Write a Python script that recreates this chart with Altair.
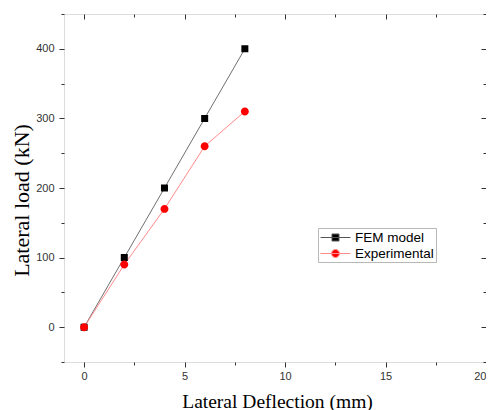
import altair as alt
import pandas as pd

deflection = [0, 2, 4, 6, 8]
fem_load = [0, 100, 200, 300, 400]
exp_load = [0, 90, 170, 260, 310]
series_names = ["FEM model", "Experimental"]
x_ticks = [0, 2.5, 5, 7.5, 10, 12.5, 15, 17.5, 20]
y_ticks = [-50, 0, 50, 100, 150, 200, 250, 300, 350, 400, 450]

rows = []
for name, loads in zip(series_names, [fem_load, exp_load]):
    for d, l in zip(deflection, loads):
        rows.append({"series": name, "deflection": d, "load": l})
df = pd.DataFrame(rows)

xs = alt.Scale(domain=[-1, 20], nice=False, zero=False)
ys = alt.Scale(domain=[-50, 450], nice=False, zero=False)

LF = "Liberation Sans"
TF = "Liberation Serif"
LC = "#333333"

x_major = "datum.value % 5 === 0"
y_major = "datum.value % 100 === 0"

x_bottom = alt.Axis(
    orient="bottom", values=x_ticks, format="d",
    labelExpr=f"{x_major} ? datum.label : ''",
    tickSize={"condition": {"test": x_major, "value": 5}, "value": 3},
    tickColor=LC, tickWidth=1, domain=False, grid=False,
    labelFont=LF, labelFontSize=11, labelColor=LC, labelPadding=3,
    title="Lateral Deflection (mm)", titleFont=TF, titleFontSize=19.5,
    titleFontWeight="normal", titleColor="black",
    titleX=213, titleY=45, titleAlign="center", titleBaseline="alphabetic",
)
x_top = alt.Axis(
    orient="top", values=x_ticks, labels=False, domain=False, grid=False, title=None,
    tickSize={"condition": {"test": x_major, "value": -5}, "value": -3},
    tickColor=LC, tickWidth=1,
)
y_left = alt.Axis(
    orient="left", values=y_ticks, format="d",
    labelExpr=f"{y_major} ? datum.label : ''",
    tickSize={"condition": {"test": y_major, "value": 5}, "value": 3},
    tickColor=LC, tickWidth=1, domain=False, grid=False,
    labelFont=LF, labelFontSize=11, labelColor=LC, labelPadding=5,
    title="Lateral load (kN)", titleFont=TF, titleFontSize=22,
    titleFontWeight="normal", titleColor="black",
    titleX=-43, titleY=186, titleAngle=270, titleAlign="center", titleBaseline="middle",
)
y_right = alt.Axis(
    orient="right", values=y_ticks, labels=False, domain=False, grid=False, title=None,
    tickSize={"condition": {"test": y_major, "value": -5}, "value": -3},
    tickColor=LC, tickWidth=1,
)

# symbol shapes: a marker with a horizontal line segment (the segment shows only in the legend)
sq_path = "M-2.14,0H2.14M-0.5,-0.5H0.5V0.5H-0.5Z"
ci_path = "M-0.57,0A0.57,0.57 0 1,0 0.57,0A0.57,0.57 0 1,0 -0.57,0ZM-2.14,0H2.14"


def make_legend():
    return alt.Legend(
        title=None, orient="none", legendX=254, legendY=214,
        strokeColor="#b8b8b8", fillColor="white", padding=2,
        labelFont=LF, labelFontSize=13.5, labelColor="black", labelOffset=12,
        symbolSize=196, symbolStrokeWidth=1, symbolOffset=8, rowPadding=2,
    )


# line stroke scale listed in a different order so its (disabled) legend is not merged
line_order = list(reversed(series_names))
lines = alt.Chart(df).mark_line(strokeWidth=1).encode(
    x=alt.X("deflection:Q", scale=xs, axis=x_bottom),
    y=alt.Y("load:Q", scale=ys, axis=y_left),
    stroke=alt.Stroke("series:N", scale=alt.Scale(domain=line_order, range=["#ff8a8a", "#707070"]), legend=None),
    order="deflection:Q",
)

points = alt.Chart(df).mark_point(filled=False, size=196, opacity=1, strokeWidth=0).encode(
    x=alt.X("deflection:Q", scale=xs, axis=x_top),
    y=alt.Y("load:Q", scale=ys, axis=y_right),
    color=alt.Color("series:N", scale=alt.Scale(domain=series_names, range=["#555555", "#ff8a8a"]), legend=make_legend()),
    fill=alt.Fill("series:N", scale=alt.Scale(domain=series_names, range=["#000000", "#ff0000"]), legend=make_legend()),
    shape=alt.Shape("series:N", scale=alt.Scale(domain=series_names, range=[sq_path, ci_path]), legend=make_legend()),
)

chart = alt.layer(lines, points).resolve_axis(x="independent", y="independent").properties(
    width=422, height=348,
    autosize=alt.AutoSizeParams(type="none"),
    padding={"left": 56, "top": 6, "right": 0, "bottom": 50},
).configure_view(stroke="#222222", strokeWidth=1).configure(background="white")

chart.save("out.html", embed_options={"renderer": "svg", "actions": False})
